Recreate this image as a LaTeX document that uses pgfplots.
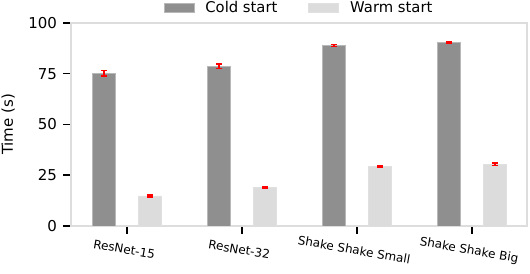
\documentclass[border=0pt]{standalone}
\usepackage{pgfplots}
\pgfplotsset{compat=1.18}
\usepackage{fontspec}
\setmainfont{DejaVu Sans}
\definecolor{cold}{RGB}{143,143,143}
\definecolor{warm}{RGB}{220,220,220}
\definecolor{framec}{RGB}{221,221,221}
\begin{document}
\begin{tikzpicture}
\begin{axis}[
  scale only axis, width=456bp, height=203bp,
  at={(0,0)}, anchor=south west,
  xmin=-0.487, xmax=3.478, ymin=0, ymax=100,
  ybar, bar width=0.2,
  xtick={0,1,2,3},
  xticklabels={ResNet-15,ResNet-32,Shake Shake Small,Shake Shake Big},
  ytick={0,25,50,75,100},
  axis line style={draw=framec, line width=2bp},
  tick align=outside, major tick length=7.5bp,
  xtick pos=left, ytick pos=left,
  tick style={black, line width=1.5bp},
  /pgf/number format/assume math mode=true,
  yticklabel style={font=\fontsize{15bp}{17bp}\selectfont, xshift=-3bp},
  xticklabel style={font=\fontsize{12bp}{14bp}\selectfont, rotate=-10, anchor=north, inner sep=0.5bp, yshift=-11bp},
  ylabel={Time (s)},
  ylabel style={font=\fontsize{15bp}{17bp}\selectfont, at={(axis description cs:-0.138,0.5)}, anchor=center},
  legend columns=2,
  legend style={draw=none, fill=none, at={(axis description cs:0.5,1.076)}, anchor=center,
    font=\fontsize{14.8bp}{16bp}\selectfont,
    /tikz/every odd column/.append style={column sep=9bp},
    /tikz/every even column/.append style={column sep=29bp}},
  legend image code/.code={\fill[#1] (0bp,-4.5bp) rectangle (30bp,4.5bp);},
  error bars/y dir=both, error bars/y explicit,
  error bars/error bar style={red, line width=1.5bp},
  error bars/error mark options={rotate=90, red, mark size=3bp, line width=1.5bp},
]
\addplot[fill=cold, draw=black!28, line width=0.8bp, bar shift=-0.2]
  coordinates {(0,75.3) +- (0,1.4) (1,78.7) +- (0,1.0) (2,88.9) +- (0,0.6) (3,90.5) +- (0,0.4)};
\addlegendentry{Cold start}
\addplot[fill=warm, draw=black!12, line width=0.8bp, bar shift=0.2]
  coordinates {(0,14.8) +- (0,0.5) (1,19.0) +- (0,0.4) (2,29.4) +- (0,0.4) (3,30.5) +- (0,0.6)};
\addlegendentry{Warm start}
\end{axis}
\pgfresetboundingbox
\path[use as bounding box] (-71bp,-48bp) rectangle (459bp,226bp);
\end{tikzpicture}
\end{document}
